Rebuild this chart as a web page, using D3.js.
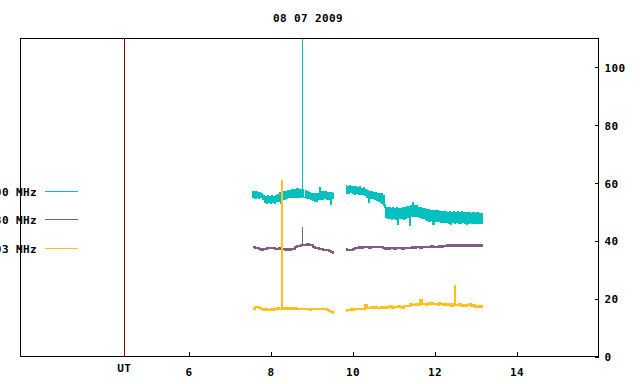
<!DOCTYPE html>
<html><head><meta charset="utf-8">
<script src="https://cdn.jsdelivr.net/npm/d3@7"></script>
<style>
html,body{margin:0;padding:0;background:#fff;}
text{font-family:"DejaVu Sans Mono",monospace;font-weight:bold;font-size:11px;letter-spacing:0.4px;fill:#000;}
</style></head>
<body><svg id="c" width="640" height="384"></svg>
<script>
// ---- data ----
const title = "08 07 2009";
const seriesNames = ["00 MHz", "30 MHz", "03 MHz"];
const seriesColors = ["#00c0c0", "#7e5f80", "#ffc020"];
const xTicks = [6, 8, 10, 12, 14];
const yTicks = [0, 20, 40, 60, 80, 100];
const utTime = 4.43;
// time spans (hours UT) of the two observing segments
const seg1Span = [7.56, 9.54];
const seg2Span = [9.85, 13.19];

const cyanSeg1 = [57.2,55.0,56.9,54.8,57.1,55.2, 56.8,54.7,56.6,54.9,56.2,54.3,
  55.5,53.3,55.4,53.1,55.6,53.2, 55.3,53.0,55.5,53.4,55.2,53.1,
  55.8,53.6,55.9,53.5,56.8,52.8, 56.6,54.2,56.9,54.3,57.0,54.6,
  57.3,54.9,57.5,55.0,57.8,55.1, 57.9,55.0,57.7,55.2,58.0,55.1,
  57.8,55.0,57.9,55.3,57.7,55.1, 55.0,57.4,54.8,57.2,54.7,56.8,
  54.2,56.5,53.9,56.3,53.7,56.2, 53.8,56.4,54.2,58.4,54.3,57.0,
  54.5,57.0,54.6,56.9,54.4,56.8, 54.5,56.6,52.7,56.7,54.8,56.5];
const cyanSeg2 = [59.2,56.5,58.9,56.3,59.0,56.6,58.7,56.4,58.8,56.2,
  58.7,56.3,58.5,56.0,58.6,56.1,58.2,55.9,58.3,55.6,
  57.6,55.2,57.3,53.4,57.1,54.8,56.9,54.6,56.7,54.2,
  56.6,53.9,56.5,53.6,56.4,53.3,56.2,53.0,55.5,52.4,
  51.6,48.0,51.4,47.8,51.5,47.6,51.3,47.5,51.4,47.9,
  51.2,47.4,51.5,45.8,51.3,47.6,51.1,47.7,51.4,47.3,
  51.6,47.9,51.8,48.2,52.0,45.5,52.2,48.3,53.4,48.4,
  52.1,48.6,52.3,48.5,51.6,48.0,51.4,47.8,51.2,47.6,
  51.0,47.3,50.8,47.2,50.7,46.9,50.6,47.1,50.5,45.8,
  50.4,46.8,50.3,46.6,50.5,46.7,50.1,46.4,50.2,46.5,
  50.0,46.3,50.2,46.4,49.9,46.2,50.1,45.7,49.8,46.3,
  50.0,46.1,49.9,46.3,50.1,46.2,49.8,46.0,50.0,46.4,
  49.8,46.2,49.9,45.8,49.7,46.1,49.8,46.3,49.6,46.0,
  49.7,46.1,49.5,46.2,49.8,45.9,49.6,46.2,49.5,46.1,
  49.4];
const purpleSeg1 = [37.9,37.8,37.7,37.6,37.1,37.0,37.2,37.1,37.5,37.4,
  37.6,37.5,37.3,37.2,37.4,37.2,37.1,37.0,37.2,37.0,
  37.1,37.3,37.8,38.2,38.3,38.4,38.5,38.6,38.8,38.7,
  38.4,38.0,37.7,37.6,37.3,37.2,37.0,36.8,36.7,36.4,
  36.2,35.8];
const purpleSeg2 = [37.2,36.9,37.0,36.8,37.1,37.4,37.6,37.8,37.7,37.8,
  37.9,37.8,37.7,37.9,37.8,37.8,37.9,38.0,37.8,37.7,
  37.3,37.4,37.2,37.5,37.4,37.3,37.6,37.4,37.5,37.3,
  37.6,37.5,37.7,37.6,37.8,37.7,37.9,37.8,37.7,38.0,
  37.9,37.8,38.0,37.9,38.1,37.9,38.0,37.8,38.1,38.0,
  38.2,38.1,38.4,38.3,38.5,38.3,38.4,38.2,38.5,38.3,
  38.4,38.2,38.5,38.3,38.4,38.1,38.4,38.3,38.5,38.2,38.4];
const goldSeg1 = [16.3,16.6,17.0,17.2,16.8,16.3,16.1,16.4,16.2,16.0,
  16.3,16.2,16.5,16.7,16.5,16.6,16.8,16.5,16.9,16.6,
  16.8,16.5,16.7,16.4,16.6,16.4,16.6,16.3,16.5,16.2,
  16.6,16.4,16.5,16.3,16.6,16.4,16.5,16.3,16.0,15.8,
  15.4,15.1];
const goldSeg2 = [15.9,16.2,16.0,16.3,16.1,16.4,16.3,16.5,16.4,16.6,
  17.9,16.8,16.9,17.2,16.8,17.0,16.9,16.7,17.1,16.8,
  17.0,16.8,17.1,17.3,16.9,17.2,17.0,17.4,17.1,16.9,
  17.3,17.6,17.4,18.0,17.7,17.9,18.2,17.8,19.7,18.0,
  18.3,17.9,18.4,18.1,18.6,18.0,18.3,17.9,18.5,18.1,
  17.8,18.2,17.7,18.0,17.6,18.1,17.9,17.7,18.0,17.6,
  17.9,17.5,17.8,18.0,17.6,17.9,17.2,17.0,17.3,17.1,17.6];
// short interference spikes: [time (h UT), peak value]
const cyanSpikes = [[8.77, 140]];
const purpleSpikes = [[8.77, 44.7]];
const goldSpikes = [[8.27, 61.0], [12.49, 24.6]];

const series = [
  {segs: [cyanSeg1, cyanSeg2], spikes: cyanSpikes, sw: 1, lw: 1.2},
  {segs: [purpleSeg1, purpleSeg2], spikes: purpleSpikes, sw: 1, lw: 2},
  {segs: [goldSeg1, goldSeg2], spikes: goldSpikes, sw: 2, lw: 2}
];
const spans = [seg1Span, seg2Span];

// ---- chart ----
const svg = d3.select("#c");
const L = 20.5, R = 598.5, T = 38.5, B = 356.5;
const x = d3.scaleLinear().domain([1.9, 16.0]).range([L, R]);
const y = d3.scaleLinear().domain([0, 110]).range([B, T]);

svg.append("rect").attr("width", 640).attr("height", 384).attr("fill", "#fff");

svg.append("defs").append("clipPath").attr("id", "clip")
  .append("rect").attr("x", L).attr("y", T).attr("width", R - L).attr("height", B - T);

// UT line
const ux = Math.round(x(utTime)) + 0.5;
svg.append("line").attr("x1", ux).attr("x2", ux)
  .attr("y1", T).attr("y2", B).attr("stroke", "#8b0000").attr("stroke-width", 1);

// data
const line = d3.line().x(d => x(d[0])).y(d => y(d[1])).curve(d3.curveStep);
const g = svg.append("g").attr("clip-path", "url(#clip)");
series.forEach((s, k) => {
  const allPts = [];
  s.segs.forEach((vals, j) => {
    const [t0, t1] = spans[j];
    const pts = vals.map((v, i) => [t0 + (t1 - t0) * i / (vals.length - 1), v]);
    allPts.push(...pts);
    g.append("path").attr("d", line(pts)).attr("fill", "none")
      .attr("stroke", seriesColors[k]).attr("stroke-width", s.lw)
      .attr("shape-rendering", "crispEdges");
  });
  s.spikes.forEach(([t, v]) => {
    const near = allPts.reduce((a, b) => Math.abs(b[0] - t) < Math.abs(a[0] - t) ? b : a);
    const sx = s.sw === 2 ? Math.round(x(t)) : Math.round(x(t)) + 0.5;
    g.append("line").attr("x1", sx).attr("x2", sx)
      .attr("y1", y(near[1])).attr("y2", y(v))
      .attr("stroke", seriesColors[k]).attr("stroke-width", s.sw)
      .attr("shape-rendering", "crispEdges");
  });
});

// axes
const yAxis = d3.axisRight(y).tickValues(yTicks).tickSizeInner(-4).tickSizeOuter(0).tickPadding(6);
const ya = svg.append("g").attr("transform", `translate(${R},0)`).call(yAxis);
const xAxis = d3.axisBottom(x).tickValues(xTicks).tickSizeInner(-5).tickSizeOuter(0).tickPadding(12);
const xa = svg.append("g").attr("transform", `translate(0,${B})`).call(xAxis);
[ya, xa].forEach(a => {
  a.select(".domain").remove();
  a.selectAll("line").attr("stroke", "#000").attr("shape-rendering", "crispEdges");
  a.selectAll("text").attr("font-family", null).attr("font-size", null).attr("fill", "#000");
});
ya.selectAll("text").attr("dy", "0.36em");

// UT label
svg.append("text").attr("x", x(utTime)).attr("y", 372).attr("text-anchor", "middle").text("UT");

// border
svg.append("rect").attr("x", L).attr("y", T).attr("width", R - L).attr("height", B - T)
  .attr("fill", "none").attr("stroke", "#000").attr("stroke-width", 1);

// title
svg.append("text").attr("x", 308).attr("y", 22).attr("text-anchor", "middle").text(title);

// legend
const legY = [191.5, 219.5, 248.5];
seriesNames.forEach((n, k) => {
  svg.append("text").attr("x", 37).attr("y", legY[k] + 4).attr("text-anchor", "end").text(n);
  svg.append("line").attr("x1", 45).attr("x2", 78).attr("y1", legY[k]).attr("y2", legY[k])
    .attr("stroke", seriesColors[k]).attr("stroke-width", 1);
});
</script></body></html>
